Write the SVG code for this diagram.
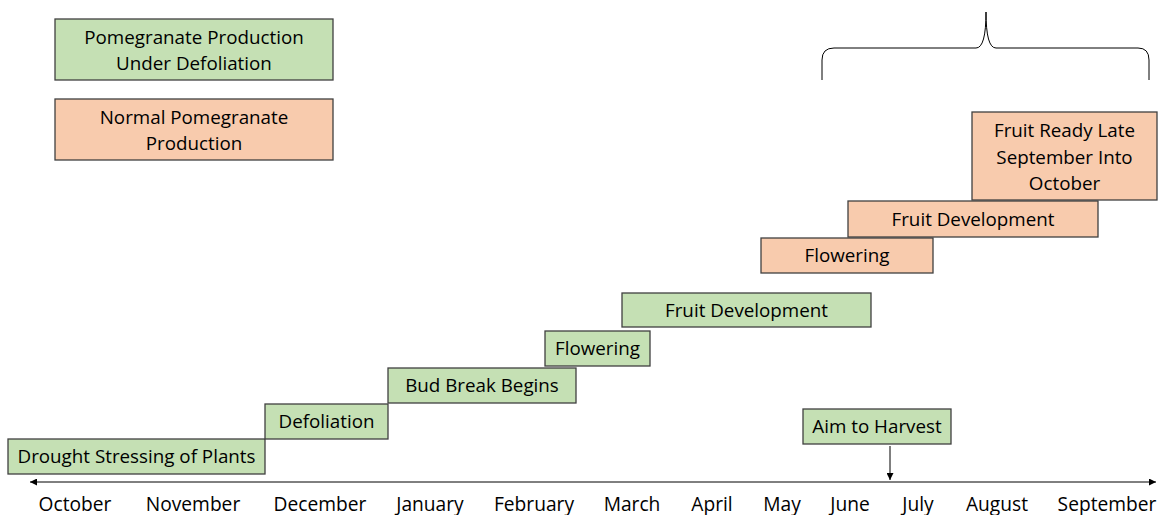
<svg xmlns="http://www.w3.org/2000/svg" width="1158" height="515" viewBox="0 0 1158 515">
<defs>
<style>
.g{fill:#C5E0B4;stroke:#404040;stroke-width:1.3}
.o{fill:#F8CBAD;stroke:#404040;stroke-width:1.3}
text{font-family:"Open Sans","Liberation Sans",sans-serif;font-size:18.8px;fill:#000;text-anchor:middle}
.m{font-size:19.2px}
.ln{stroke:#000;stroke-width:1;fill:none}
</style>
<marker id="ah" viewBox="0 0 10 10" refX="10" refY="5" markerWidth="7" markerHeight="7" orient="auto-start-reverse" markerUnits="userSpaceOnUse">
<path d="M0,0 L10,5 L0,10 z" fill="#000"/>
</marker>
</defs>
<rect width="1158" height="515" fill="#fff"/>
<g id="legend-defoliation"><rect class="g" x="55" y="19" width="278" height="61"/><text x="194" y="44">Pomegranate Production</text><text x="194" y="70">Under Defoliation</text></g>
<g id="legend-normal"><rect class="o" x="55" y="99" width="278" height="61"/><text x="194" y="124">Normal Pomegranate</text><text x="194" y="150">Production</text></g>
<g id="brace"><path class="ln" stroke="#555" d="M822,80 V60 Q822,48 834,48 H976 Q986,48 986,12 Q986,48 996,48 H1138 Q1149,48 1149,60 V80"/></g>
<g id="drought"><rect class="g" x="8" y="439" width="257" height="35"/><text x="136.5" y="463">Drought Stressing of Plants</text></g>
<g id="defoliation"><rect class="g" x="265" y="404" width="123" height="35"/><text x="326.5" y="428">Defoliation</text></g>
<g id="budbreak"><rect class="g" x="388" y="368" width="188" height="35"/><text x="482" y="392">Bud Break Begins</text></g>
<g id="flowering-g"><rect class="g" x="545" y="331" width="105" height="35"/><text x="597.5" y="355">Flowering</text></g>
<g id="fruitdev-g"><rect class="g" x="622" y="293" width="249" height="34"/><text x="746.5" y="317">Fruit Development</text></g>
<g id="harvest"><rect class="g" x="803" y="409" width="148" height="35"/><text x="877" y="433">Aim to Harvest</text></g>
<g id="flowering-o"><rect class="o" x="761" y="238" width="172" height="35"/><text x="847" y="262">Flowering</text></g>
<g id="fruitdev-o"><rect class="o" x="848" y="201" width="250" height="36"/><text x="973" y="226">Fruit Development</text></g>
<g id="fruitready"><rect class="o" x="972" y="112" width="185" height="88"/><text x="1064.5" y="137">Fruit Ready Late</text><text x="1064.5" y="164">September Into</text><text x="1064.5" y="190">October</text></g>
<g id="connectors">
<line class="ln" x1="30" y1="482" x2="1156" y2="482" marker-start="url(#ah)" marker-end="url(#ah)"/>
<line class="ln" x1="890" y1="446" x2="890" y2="480" marker-end="url(#ah)"/>
</g>
<g id="months">
<text class="m" x="75" y="511">October</text>
<text class="m" x="193" y="511">November</text>
<text class="m" x="320" y="511">December</text>
<text class="m" x="430" y="511">January</text>
<text class="m" x="534" y="511">February</text>
<text class="m" x="632" y="511">March</text>
<text class="m" x="712" y="511">April</text>
<text class="m" x="782" y="511">May</text>
<text class="m" x="850" y="511">June</text>
<text class="m" x="918" y="511">July</text>
<text class="m" x="997" y="511">August</text>
<text class="m" x="1107" y="511">September</text>
</g>
</svg>
